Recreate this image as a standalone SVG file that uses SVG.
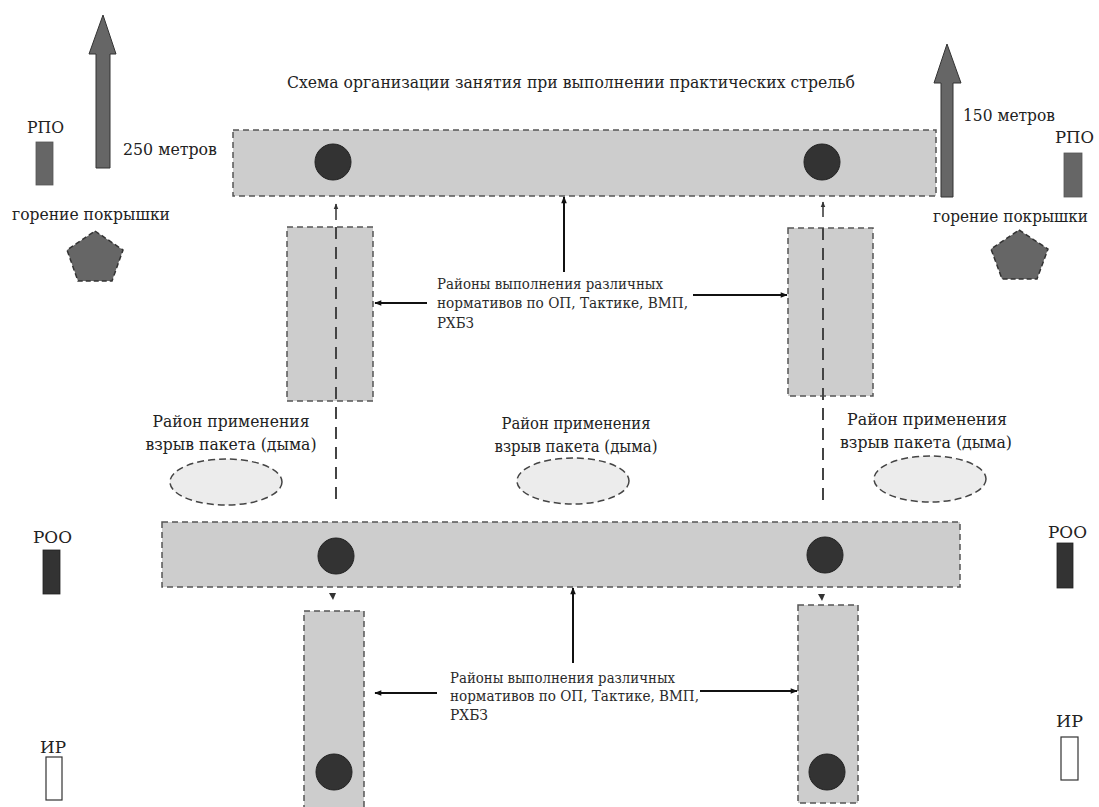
<svg xmlns="http://www.w3.org/2000/svg" width="1099" height="807" viewBox="0 0 1099 807">
<style>
text{font-family:"DejaVu Serif","Liberation Serif",serif;fill:#222;}
.lbl{font-size:16.5px;}
.note{font-size:14.5px;fill:#2a2a2a;}
.zone{fill:#cdcdcd;stroke:#555;stroke-width:1.5;stroke-dasharray:6 4;}
.smoke{fill:#ececec;stroke:#444;stroke-width:1.5;stroke-dasharray:7 4;}
.target{fill:#333;stroke:#222;stroke-width:1;}
.bigarrow{fill:#666;stroke:#333;stroke-width:1;}
.conn{stroke:#111;stroke-width:2;fill:none;}
.axis{stroke:#444;stroke-width:2;stroke-dasharray:12 8;fill:none;}
</style>
<defs>
<marker id="ah" viewBox="0 0 10 10" refX="9" refY="5" markerWidth="8" markerHeight="7" orient="auto" markerUnits="userSpaceOnUse">
<path d="M0,1 L10,5 L0,9 Z" fill="#111"/>
</marker>
<marker id="ahs" viewBox="0 0 10 10" refX="9" refY="5" markerWidth="6" markerHeight="6" orient="auto" markerUnits="userSpaceOnUse">
<path d="M0,1 L10,5 L0,9 Z" fill="#333"/>
</marker>
</defs>
<rect width="1099" height="807" fill="#fff"/>

<text id="title" class="lbl" x="287" y="88" textLength="568" lengthAdjust="spacingAndGlyphs">Схема организации занятия при выполнении практических стрельб</text>

<g id="arrow-250">
<polygon class="bigarrow" points="103,15 116,54 110,54 110,168 96,168 96,54 89,54"/>
<text class="lbl" x="123" y="155" textLength="94" lengthAdjust="spacingAndGlyphs">250 метров</text>
</g>
<g id="arrow-150">
<polygon class="bigarrow" points="947,44 961,83 953,83 953,197 941,197 941,83 934,83"/>
<text class="lbl" x="963" y="121" textLength="92" lengthAdjust="spacingAndGlyphs">150 метров</text>
</g>

<g id="rpo-left">
<text class="lbl" x="27" y="133" textLength="37" lengthAdjust="spacingAndGlyphs">РПО</text>
<rect x="36" y="142" width="17" height="43" fill="#666" stroke="#555" stroke-width="0.8"/>
</g>
<g id="rpo-right">
<text class="lbl" x="1055" y="143" textLength="39" lengthAdjust="spacingAndGlyphs">РПО</text>
<rect x="1064" y="153" width="18" height="44" fill="#666" stroke="#555" stroke-width="0.8"/>
</g>

<g id="tire-left">
<text class="lbl" x="12" y="220" textLength="158" lengthAdjust="spacingAndGlyphs">горение покрышки</text>
<polygon points="95,231 123,250 112,281 78,281 67,250" fill="#666" stroke="#333" stroke-width="1.5" stroke-dasharray="5 3"/>
</g>
<g id="tire-right">
<text class="lbl" x="933" y="222" textLength="155" lengthAdjust="spacingAndGlyphs">горение покрышки</text>
<polygon points="1019,230 1048,249 1037,279 1002,279 991,249" fill="#666" stroke="#333" stroke-width="1.5" stroke-dasharray="5 3"/>
</g>

<g id="top-line">
<rect class="zone" x="233" y="130" width="703" height="66"/>
<circle class="target" cx="333" cy="162" r="18"/>
<circle class="target" cx="822" cy="162" r="18"/>
</g>

<g id="upper-left-area"><rect class="zone" x="287" y="227" width="86" height="174"/></g>
<g id="upper-right-area"><rect class="zone" x="788" y="228" width="85" height="168"/></g>

<g id="upper-note">
<text class="note" x="437" y="289" textLength="226" lengthAdjust="spacingAndGlyphs">Районы выполнения различных</text>
<text class="note" x="437" y="308" textLength="251" lengthAdjust="spacingAndGlyphs">нормативов по ОП, Тактике, ВМП,</text>
<text class="note" x="437" y="328" textLength="37" lengthAdjust="spacingAndGlyphs">РХБЗ</text>
</g>

<g id="smoke-left">
<text class="lbl" x="231" y="427" text-anchor="middle" textLength="157" lengthAdjust="spacingAndGlyphs">Район применения</text>
<text class="lbl" x="231" y="450" text-anchor="middle" textLength="171" lengthAdjust="spacingAndGlyphs">взрыв пакета (дыма)</text>
<ellipse class="smoke" cx="226" cy="482" rx="56" ry="23"/>
</g>
<g id="smoke-center">
<text class="lbl" x="576" y="429" text-anchor="middle" textLength="149" lengthAdjust="spacingAndGlyphs">Район применения</text>
<text class="lbl" x="576" y="452" text-anchor="middle" textLength="163" lengthAdjust="spacingAndGlyphs">взрыв пакета (дыма)</text>
<ellipse class="smoke" cx="573" cy="481" rx="56" ry="23"/>
</g>
<g id="smoke-right">
<text class="lbl" x="927" y="425" text-anchor="middle" textLength="160" lengthAdjust="spacingAndGlyphs">Район применения</text>
<text class="lbl" x="926" y="448" text-anchor="middle" textLength="172" lengthAdjust="spacingAndGlyphs">взрыв пакета (дыма)</text>
<ellipse class="smoke" cx="930" cy="479" rx="56" ry="23"/>
</g>

<g id="lower-line">
<rect class="zone" x="162" y="522" width="798" height="65"/>
<circle class="target" cx="336" cy="556" r="18"/>
<circle class="target" cx="825" cy="555" r="18"/>
</g>

<g id="lower-left-area">
<rect class="zone" x="304" y="611" width="60" height="205"/>
<circle class="target" cx="334" cy="772" r="18"/>
</g>
<g id="lower-right-area">
<rect class="zone" x="798" y="605" width="60" height="198"/>
<circle class="target" cx="827" cy="772" r="18"/>
</g>

<g id="lower-note">
<text class="note" x="450" y="683" textLength="225" lengthAdjust="spacingAndGlyphs">Районы выполнения различных</text>
<text class="note" x="450" y="701" textLength="249" lengthAdjust="spacingAndGlyphs">нормативов по ОП, Тактике, ВМП,</text>
<text class="note" x="450" y="720" textLength="38" lengthAdjust="spacingAndGlyphs">РХБЗ</text>
</g>

<g id="roo-left">
<text class="lbl" x="33" y="543" textLength="39" lengthAdjust="spacingAndGlyphs">РОО</text>
<rect x="43" y="550" width="17" height="44" fill="#333" stroke="#222" stroke-width="0.8"/>
</g>
<g id="roo-right">
<text class="lbl" x="1048" y="538" textLength="39" lengthAdjust="spacingAndGlyphs">РОО</text>
<rect x="1057" y="543" width="16" height="45" fill="#333" stroke="#222" stroke-width="0.8"/>
</g>
<g id="ir-left">
<text class="lbl" x="40" y="753" textLength="26" lengthAdjust="spacingAndGlyphs">ИР</text>
<rect x="46" y="757" width="16" height="43" fill="#fff" stroke="#333" stroke-width="1.2"/>
</g>
<g id="ir-right">
<text class="lbl" x="1056" y="727" textLength="27" lengthAdjust="spacingAndGlyphs">ИР</text>
<rect x="1061" y="737" width="17" height="43" fill="#fff" stroke="#333" stroke-width="1.2"/>
</g>

<g id="connectors">
<line class="axis" x1="336" y1="227" x2="336" y2="507"/>
<line class="axis" x1="823" y1="228" x2="823" y2="505"/>
<line x1="336" y1="220" x2="336" y2="204" stroke="#333" stroke-width="1.5" marker-end="url(#ahs)"/>
<line x1="823" y1="217" x2="823" y2="202" stroke="#333" stroke-width="1.5" marker-end="url(#ahs)"/>
<line class="conn" x1="564" y1="272" x2="564" y2="197" marker-end="url(#ah)"/>
<line class="conn" x1="427" y1="303" x2="375" y2="303" marker-end="url(#ah)"/>
<line class="conn" x1="693" y1="295" x2="787" y2="295" marker-end="url(#ah)"/>
<line class="conn" x1="573" y1="663" x2="573" y2="588" marker-end="url(#ah)"/>
<line class="conn" x1="437" y1="693" x2="375" y2="693" marker-end="url(#ah)"/>
<line class="conn" x1="700" y1="691" x2="797" y2="691" marker-end="url(#ah)"/>
<polygon points="329,593 336,593 333,600" fill="#333"/>
<polygon points="818,594 825,594 822,601" fill="#333"/>
</g>
</svg>
